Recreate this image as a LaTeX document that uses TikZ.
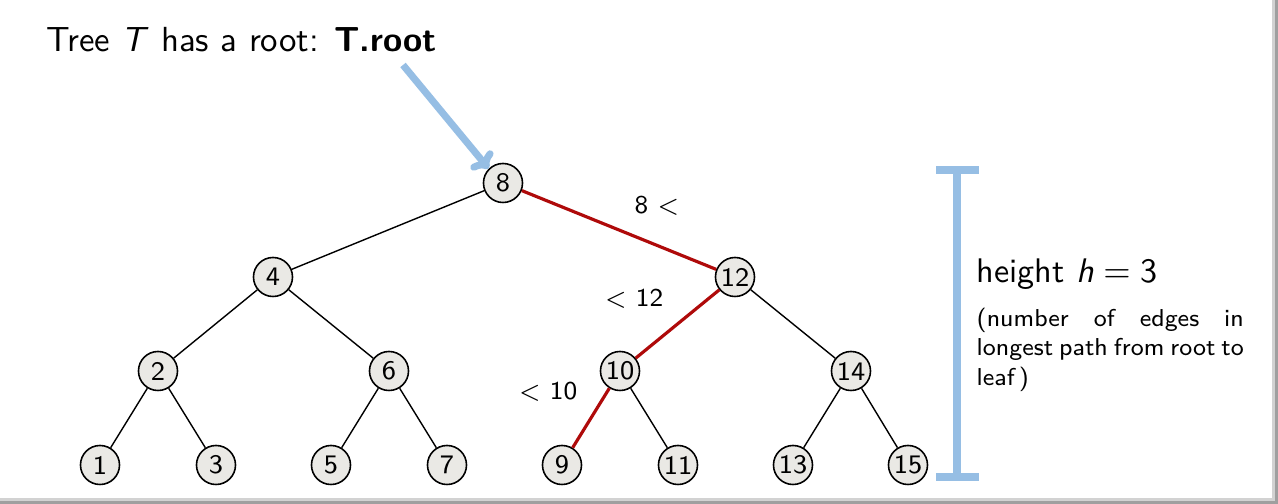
\documentclass[tikz,border=0pt]{standalone}
\usetikzlibrary{arrows.meta}
\definecolor{hlblue}{RGB}{150,190,228}
\definecolor{hlred}{RGB}{175,10,10}
\definecolor{nodefill}{RGB}{234,233,229}
\begin{document}
\begin{tikzpicture}[x=0.01cm,y=-0.01cm,font=\sffamily,
  tnode/.style={circle,draw=black,fill=nodefill,line width=0.45pt,minimum size=0.39cm,inner sep=0pt,font=\sffamily\fontsize{7.6}{8}\selectfont},
  edge/.style={line width=0.4pt,black},
  redge/.style={line width=0.9pt,hlred},
  lbl/.style={font=\sffamily\fontsize{7.3}{8}\selectfont},
  bluebar/.style={line width=2pt,hlblue}]
\useasboundingbox (0,0) rectangle (1278,504);
\fill[white] (0,0) rectangle (1278,504);
% frame shadow
\draw[gray!35,line width=1.2pt] (1274,0) -- (1274,500) -- (0,500);
\draw[gray!75,line width=0.7pt] (1276.5,0) -- (1276.5,502.5) -- (0,502.5);
% nodes
\node[tnode] (n8) at (503,183) {8};
\node[tnode] (n4) at (273,277) {4};
\node[tnode] (n12) at (735,277) {12};
\node[tnode] (n2) at (158,371) {2};
\node[tnode] (n6) at (389,371) {6};
\node[tnode] (n10) at (620,371) {10};
\node[tnode] (n14) at (851,371) {14};
\node[tnode] (n1) at (100,465) {1};
\node[tnode] (n3) at (216,465) {3};
\node[tnode] (n5) at (331,465) {5};
\node[tnode] (n7) at (447,465) {7};
\node[tnode] (n9) at (562,465) {9};
\node[tnode] (n11) at (678,465) {11};
\node[tnode] (n13) at (793,465) {13};
\node[tnode] (n15) at (908,465) {15};
% edges
\draw[edge] (n8) -- (n4);
\draw[redge] (n8) -- (n12);
\draw[edge] (n4) -- (n2);
\draw[edge] (n4) -- (n6);
\draw[redge] (n12) -- (n10);
\draw[edge] (n12) -- (n14);
\draw[edge] (n2) -- (n1);
\draw[edge] (n2) -- (n3);
\draw[edge] (n6) -- (n5);
\draw[edge] (n6) -- (n7);
\draw[redge] (n10) -- (n9);
\draw[edge] (n10) -- (n11);
\draw[edge] (n14) -- (n13);
\draw[edge] (n14) -- (n15);
% labels
\node[lbl] (l1) at (657,206) {8 $<$};
\node[lbl] (l2) at (634,299) {$<$ 12};
\node[lbl] (l3) at (548,392) {$<$ 10};
% title
\node[anchor=base west,inner sep=0pt,font=\sffamily\fontsize{9.9}{11}\selectfont] (title) at (46,52) {Tree \textit{T} has a root: \textbf{T.root}};
\coordinate (arrstart) at (403,65);
\draw[bluebar,-{To[length=4pt,width=8pt]}] (arrstart) -- (n8.north west);
% height bar
\coordinate (bt) at (957,170);
\coordinate (bb) at (957,477);
\draw[bluebar] (bt) -- (bb);
\draw[bluebar] (936,170) -- (979,170);
\draw[bluebar] (936,477) -- (979,477);
\node[anchor=base west,inner sep=0pt,font=\sffamily\fontsize{9.7}{11}\selectfont] (ht) at (976,283) {height \textit{h}${}={}$3};
\node[anchor=north west,inner sep=0pt,align=left,font=\sffamily\fontsize{6.95}{8.4}\selectfont] (desc) at (976,307) {\makebox[2.67cm][s]{(number of edges in}\\\makebox[2.67cm][s]{longest path from root to}\\leaf\,)};
\end{tikzpicture}
\end{document}
